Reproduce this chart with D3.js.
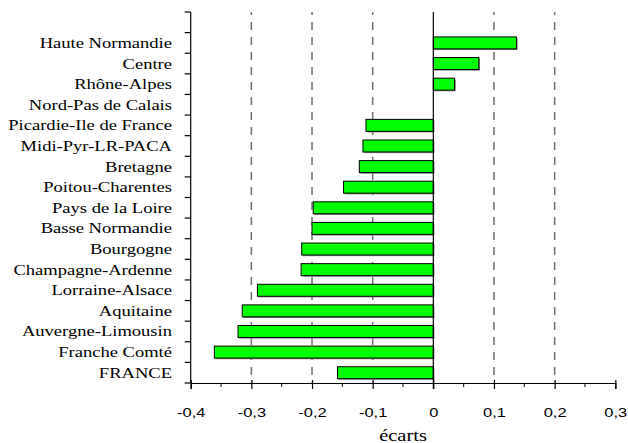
<!DOCTYPE html>
<html><head><meta charset="utf-8">
<script src="https://cdn.jsdelivr.net/npm/d3@7"></script>
<style>body{margin:0;background:#fff}svg{display:block}
.serif{font-family:"Liberation Serif","Times New Roman",Times,serif}
.sans{font-family:"Liberation Sans",Arial,Helvetica,sans-serif}
</style>
</head><body>
<svg id="c" width="628" height="443"></svg>
<script>
const categories = ["Haute Normandie","Centre","Rhône-Alpes","Nord-Pas de Calais","Picardie-Ile de France","Midi-Pyr-LR-PACA","Bretagne","Poitou-Charentes","Pays de la Loire","Basse Normandie","Bourgogne","Champagne-Ardenne","Lorraine-Alsace","Aquitaine","Auvergne-Limousin","Franche Comté","FRANCE"];
const values = [0.137,0.075,0.035,0,-0.111,-0.116,-0.122,-0.148,-0.198,-0.200,-0.217,-0.218,-0.290,-0.315,-0.322,-0.361,-0.158];
const xTicks = [-0.4,-0.3,-0.2,-0.1,0,0.1,0.2,0.3];
const gridValues = [-0.3,-0.2,-0.1,0.1,0.2];
const xTitle = "écarts";

(function(){
const svg = d3.select("#c");
const L = 190.7, R = 615.3, T = 12, B = 383;
const SX = 1.28;

const x = d3.scaleLinear().domain([-0.4,0.3]).range([L,R]);
const y = d3.scaleBand().domain([""].concat(categories)).range([T,B]).paddingInner(0.42).paddingOuter(0.21);

svg.append("g").selectAll("line").data(gridValues).join("line")
  .attr("x1",d=>x(d)).attr("x2",d=>x(d)).attr("y1",T).attr("y2",B)
  .attr("stroke","#6e6e6e").attr("stroke-width",1.5).attr("stroke-dasharray","8,7").attr("stroke-dashoffset",5);

const bars = categories.map((c,i)=>({c,v:values[i]})).filter(d=>d.v!==0);
svg.append("g").selectAll("rect").data(bars).join("rect")
  .attr("x",d=>Math.min(x(0),x(d.v))+1.2).attr("y",d=>y(d.c)+1.2)
  .attr("width",d=>Math.abs(x(d.v)-x(0))).attr("height",y.bandwidth())
  .attr("fill","#8a8a8a");
svg.append("g").selectAll("rect").data(bars).join("rect")
  .attr("x",d=>Math.min(x(0),x(d.v))).attr("y",d=>y(d.c))
  .attr("width",d=>Math.abs(x(d.v)-x(0))).attr("height",y.bandwidth())
  .attr("fill","#00ff00").attr("stroke","#000").attr("stroke-width",1);

svg.append("line").attr("x1",x(0)).attr("x2",x(0)).attr("y1",T).attr("y2",B+6)
  .attr("stroke","#000").attr("stroke-width",1.2);

svg.append("line").attr("x1",L).attr("x2",L).attr("y1",T).attr("y2",B)
  .attr("stroke","#000").attr("stroke-width",1.2);
const bounds = d3.range(y.domain().length+1).map(i=>T+i*y.step());
svg.append("g").selectAll("line").data(bounds).join("line")
  .attr("x1",L-6).attr("x2",L).attr("y1",d=>d).attr("y2",d=>d)
  .attr("stroke","#000").attr("stroke-width",1.2);
svg.append("g").selectAll("text").data(categories).join("text")
  .attr("class","serif")
  .attr("transform",d=>`translate(172,${y(d)+y.bandwidth()/2+5}) scale(${SX},1)`)
  .attr("text-anchor","end").style("font-size","14.5px").attr("fill","#000").text(d=>d);

const loc = d3.formatLocale({decimal:",",thousands:" ",grouping:[3],currency:["","€"],minus:"-"});
const fmt = loc.format(".1~f");
const xAxis = d3.axisBottom(x).tickValues(xTicks).tickSize(6).tickPadding(18).tickFormat(fmt);
const gx = svg.append("g").attr("transform",`translate(0,${B})`).call(xAxis);
gx.attr("font-family",null).attr("font-size",null);
gx.select(".domain").attr("stroke","#000").attr("stroke-width",1.2);
gx.selectAll(".tick line").attr("stroke","#000").attr("stroke-width",1.2).attr("y1",-3);
gx.selectAll(".tick text").attr("class","sans").style("font-size","13.5px")
  .attr("fill","#000").attr("transform",`scale(1.22,1)`);
const minor = d3.range(-0.35,0.3,0.1);
svg.append("g").selectAll("line").data(minor).join("line")
  .attr("x1",d=>x(d)).attr("x2",d=>x(d)).attr("y1",B).attr("y2",B+4)
  .attr("stroke","#000").attr("stroke-width",1);

svg.append("text").attr("class","serif").attr("transform",`translate(403,441) scale(${SX},1)`)
  .attr("text-anchor","middle").style("font-size","16px").attr("fill","#000").text(xTitle);
})();
</script>
</body></html>
